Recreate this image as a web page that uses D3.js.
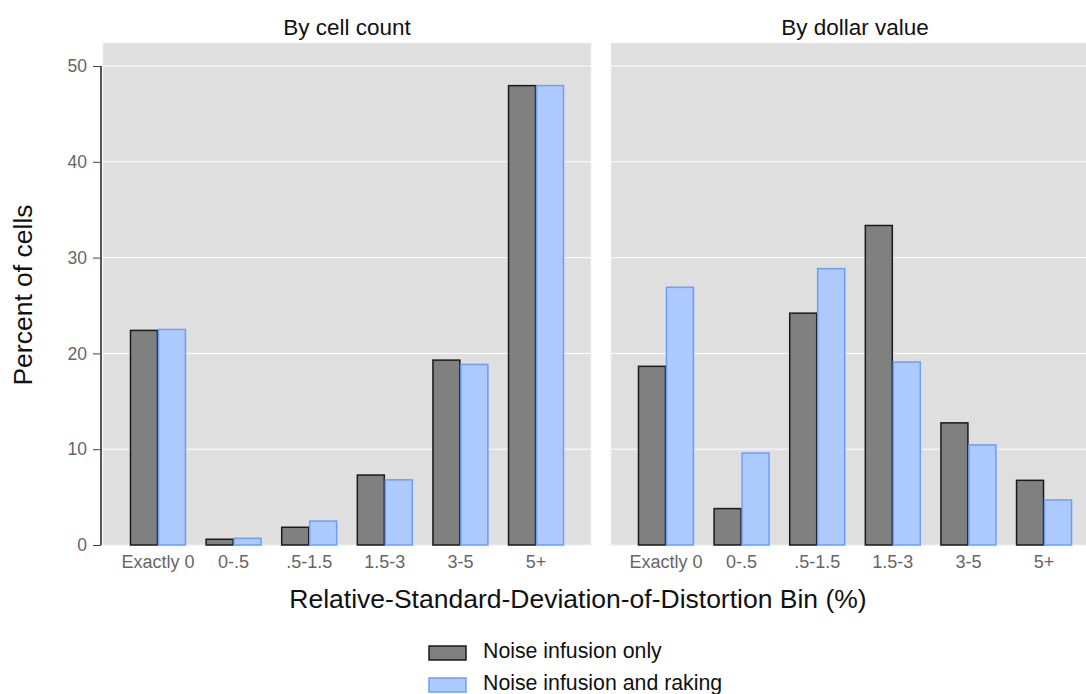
<!DOCTYPE html>
<html><head><meta charset="utf-8">
<script src="https://cdn.jsdelivr.net/npm/d3@7"></script>
<style>body{margin:0;background:#fff;} text{font-family:"Liberation Sans",Arial,sans-serif;}</style>
</head><body>
<svg id="chart" width="1086" height="694"></svg>
<script>
const categories = ["Exactly 0", "0-.5", ".5-1.5", "1.5-3", "3-5", "5+"];
const panels = ["By cell count", "By dollar value"];
const seriesNames = ["Noise infusion only", "Noise infusion and raking"];
const cellNoise = [22.4, 0.6, 1.85, 7.3, 19.3, 47.95];
const cellRaking = [22.5, 0.7, 2.5, 6.8, 18.85, 47.95];
const dollarNoise = [18.65, 3.8, 24.2, 33.35, 12.75, 6.75];
const dollarRaking = [26.9, 9.6, 28.85, 19.1, 10.45, 4.7];
const yTicks = [0, 10, 20, 30, 40, 50];

const panelData = [[cellNoise, cellRaking], [dollarNoise, dollarRaking]];
const fills = ["#808080", "#aecbff"];
const strokes = ["#1a1a1a", "#6b9dff"];

const svg = d3.select("#chart");
const plotTop = 43, plotBottom = 545, pw = 488;
const panelX = [103, 611];
const y = d3.scaleLinear().domain([0, 52.4]).range([plotBottom, plotTop]);
const x = d3.scaleBand().domain(categories).range([0, pw]).paddingInner(0.26).paddingOuter(0.357);
const xs = d3.scaleBand().domain([0, 1]).range([0, x.bandwidth()]);

panels.forEach((title, pi) => {
  const g = svg.append("g").attr("transform", `translate(${panelX[pi]},0)`);
  g.append("rect").attr("x", 0).attr("y", plotTop).attr("width", pw).attr("height", plotBottom - plotTop)
    .attr("fill", "#dfdfdf").attr("stroke", "#efefef").attr("stroke-width", 1);
  g.selectAll("line.grid").data(yTicks.slice(1)).enter().append("line")
    .attr("x1", 0).attr("x2", pw).attr("y1", d => y(d)).attr("y2", d => y(d))
    .attr("stroke", "#ffffff").attr("stroke-width", 1);
  g.append("text").attr("x", pw / 2).attr("y", 35).attr("text-anchor", "middle")
    .attr("font-size", 22.5).attr("fill", "#111").text(title);
  panelData[pi].forEach((vals, si) => {
    g.selectAll(null).data(vals).enter().append("rect")
      .attr("x", (d, i) => x(categories[i]) + xs(si) + 0.5)
      .attr("y", d => y(d))
      .attr("width", xs.bandwidth() - 1)
      .attr("height", d => y(0) - y(d))
      .attr("fill", fills[si]).attr("stroke", strokes[si]).attr("stroke-width", 1.5);
  });
  const xa = g.append("g").attr("transform", `translate(0,${plotBottom})`)
    .call(d3.axisBottom(x).tickSize(0).tickPadding(10));
  xa.select(".domain").remove();
  xa.selectAll("text").attr("font-size", 18).attr("fill", "#666").attr("font-family", "Liberation Sans, Arial, sans-serif");
});

const ya = svg.append("g").attr("transform", `translate(101,0)`)
  .call(d3.axisLeft(y).tickValues(yTicks).tickSize(8).tickPadding(6).tickSizeOuter(0));
ya.select(".domain").attr("d", `M0,${y(50)}V${y(0)}`).attr("stroke", "#222").attr("stroke-width", 1.5);
ya.selectAll(".tick line").attr("stroke", "#444");
ya.selectAll("text").attr("font-size", 17.5).attr("fill", "#666").attr("font-family", "Liberation Sans, Arial, sans-serif");

svg.append("text").attr("x", 578).attr("y", 608).attr("text-anchor", "middle")
  .attr("font-size", 26.5).attr("fill", "#111").text("Relative-Standard-Deviation-of-Distortion Bin (%)");
svg.append("text").attr("transform", "translate(32,295) rotate(-90)").attr("text-anchor", "middle")
  .attr("font-size", 26.5).attr("fill", "#111").text("Percent of cells");

const leg = svg.append("g");
seriesNames.forEach((name, i) => {
  const yy = 646 + i * 32;
  leg.append("rect").attr("x", 429).attr("y", yy).attr("width", 37).attr("height", 14)
    .attr("fill", fills[i]).attr("stroke", strokes[i]).attr("stroke-width", 1.5);
  leg.append("text").attr("x", 483).attr("y", yy + 12).attr("font-size", 21.3).attr("fill", "#111").text(name);
});
</script>
</body></html>
